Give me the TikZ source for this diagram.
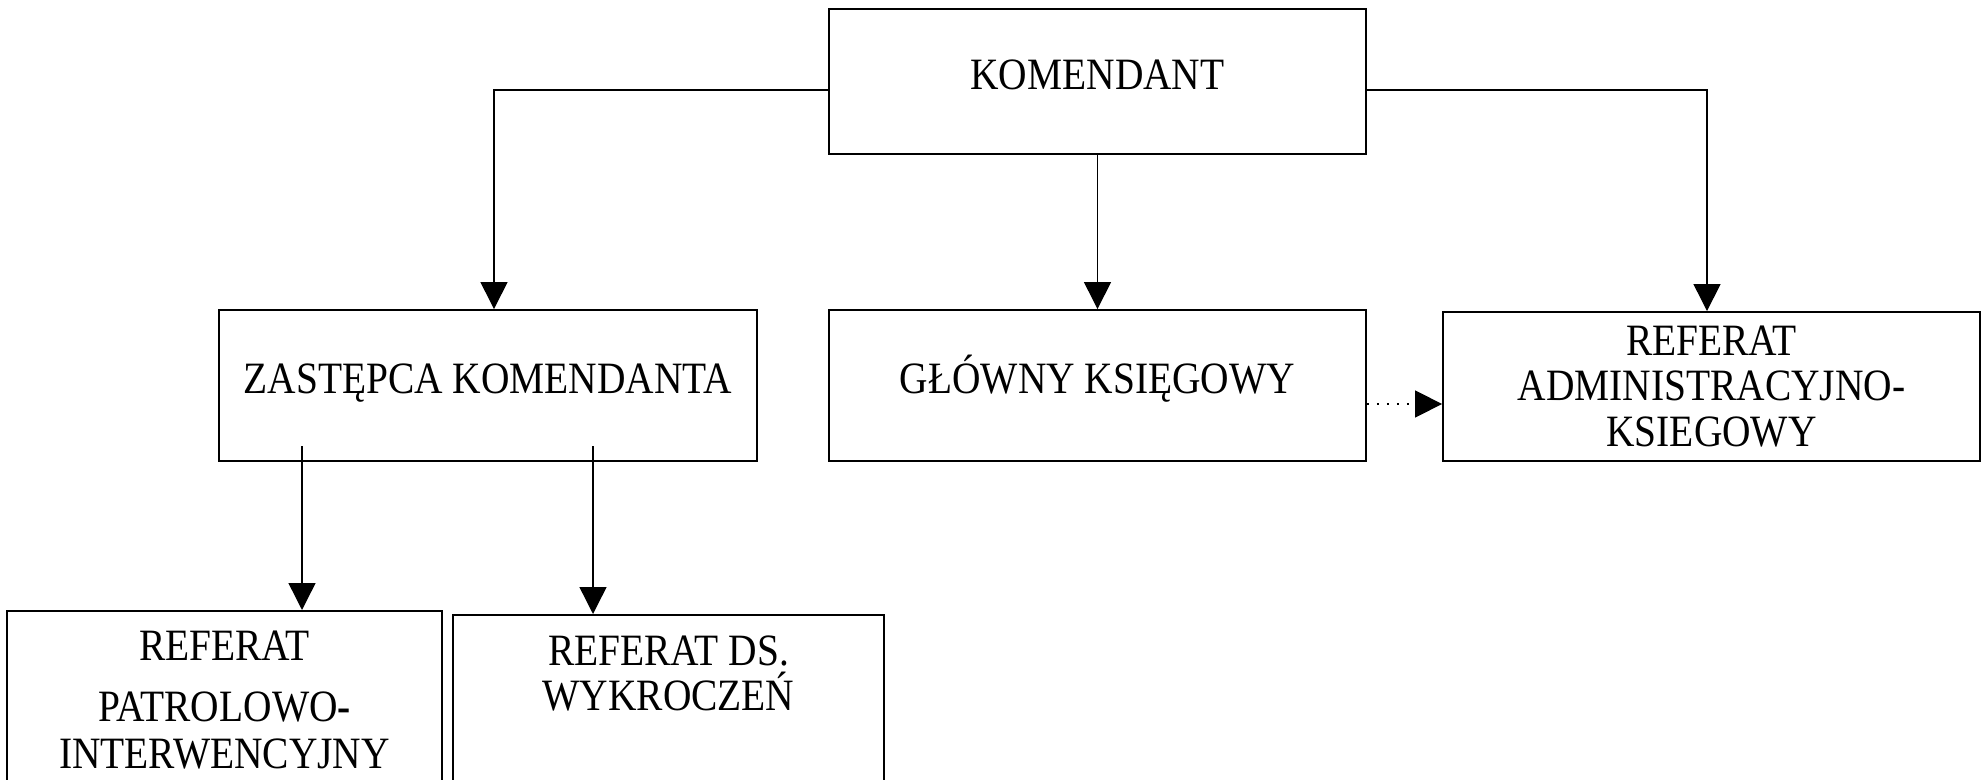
\documentclass[tikz,border=0pt]{standalone}
\usepackage{fontspec}
\setmainfont{Liberation Serif}[FakeStretch=0.88]
\usetikzlibrary{arrows.meta}

\begin{document}
\begin{tikzpicture}[x=0.02cm, y=-0.02cm, box/.style={draw, rectangle, line width=1.1pt, inner sep=0pt, align=center, font=\fontsize{25.5pt}{25.8pt}\selectfont}, one/.style={text height=0.6cm, text depth=0.26cm}, lbl/.style={inner sep=0pt, align=center, font=\fontsize{25.5pt}{25.8pt}\selectfont}, n/.style={-{Triangle[length=0.54cm, width=0.54cm]}, line width=0.8pt}, d/.style={n, dash pattern=on 0.9pt off 4.8pt}]
                \clip (0,0) rectangle (1981,780);
                % nodes
                \node[box, one, minimum width=10.74cm, minimum height=2.9cm] (kom) at (1097.5,81.5) {KOMENDANT};
                \node[box, one, minimum width=10.76cm, minimum height=3.02cm] (zast) at (488,385.5) {ZASTĘPCA KOMENDANTA};
                \node[box, one, minimum width=10.74cm, minimum height=3.02cm] (glow) at (1097.5,385.5) {GŁÓWNY KSIĘGOWY};
                \node[box, minimum width=10.74cm, minimum height=2.98cm] (adm) at (1711.5,386.5) {REFERAT\\ADMINISTRACYJNO-\\KSIEGOWY};
                \node[box, anchor=north, minimum width=8.7cm, minimum height=4cm] (pat) at (224.5,610) {};
                \node[box, anchor=north, minimum width=8.62cm, minimum height=4cm] (ds) at (668.5,614) {};
                \node[lbl, anchor=north] (patT) at (224.5,631) {REFERAT\\[8.7pt]PATROLOWO{\bfseries -}\\[0.7pt]INTERWENCYJNY};
                \node[lbl, anchor=north] (dsT) at (668.5,635) {REFERAT DS.\\WYKROCZEŃ};
                % bends
                \coordinate (k1) at (494,90);
                \coordinate (k2) at (1707,90);
                \coordinate (g1) at (1366,404);
                \coordinate (z1) at (302,446);
                \coordinate (z2) at (593,446);
                % edges
                \draw [n] (kom.west |- k1) -| (zast.north -| k1);
                \draw [n] (kom) -- (glow);
                \draw [n] (kom.east |- k2) -| (adm.north -| k2);
                \draw [d] (glow.east |- g1) -- (adm.west |- g1);
                \draw [n] (z1) -- (z1 |- pat.north);
                \draw [n] (z2) -- (z2 |- ds.north);
            \end{tikzpicture}
\end{document}
